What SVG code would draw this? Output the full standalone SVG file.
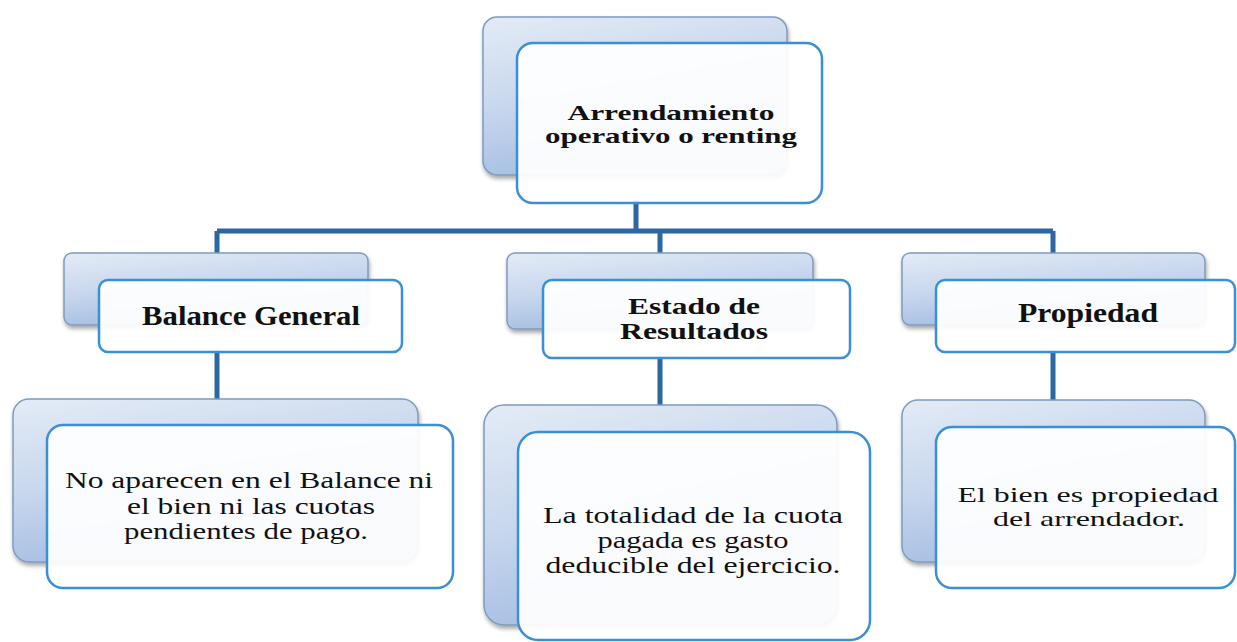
<svg xmlns="http://www.w3.org/2000/svg" width="1237" height="642" viewBox="0 0 1237 642" font-family="Liberation Serif, Times New Roman, serif">
<defs>
<linearGradient id="bg" x1="0" y1="0" x2="0.35" y2="1">
<stop offset="0" stop-color="#e3ebf6"/>
<stop offset="0.5" stop-color="#c9d8ee"/>
<stop offset="1" stop-color="#a4bde2"/>
</linearGradient>
<filter id="sh" x="-10%" y="-10%" width="120%" height="130%">
<feGaussianBlur in="SourceAlpha" stdDeviation="2"/>
<feOffset dx="1" dy="3"/>
<feComponentTransfer><feFuncA type="linear" slope="0.35"/></feComponentTransfer>
<feMerge><feMergeNode/><feMergeNode in="SourceGraphic"/></feMerge>
</filter>
</defs>
<style>
.back{fill:url(#bg);stroke:#7f9bbd;stroke-width:1.5;filter:url(#sh)}
.front{fill:#ffffff;fill-opacity:0.93;stroke:#3b8fd6;stroke-width:2.5}
.conn{stroke:#2a67a3;stroke-width:5;fill:none}
text{font-family:"Liberation Serif","Times New Roman",serif}
.t{fill:#111;text-anchor:middle}
.b{font-weight:bold;font-size:24px}
.r{font-size:24px}
.s{font-size:22px}
</style>
<rect width="1237" height="642" fill="#ffffff"/>
<g id="connectors">
<path class="conn" d="M636 200 V231 M217 231 H1053 M217 231 V256 M660 231 V256 M1053 231 V256"/>
<path class="conn" d="M217 350 V400 M660 356 V406 M1053 350 V401"/>
</g>
<g id="root">
<rect class="back" x="483" y="17" width="304" height="158" rx="14"/>
<rect class="front" x="517" y="43" width="305" height="160" rx="16"/>
<text class="t b s" x="671" y="120" textLength="207" lengthAdjust="spacingAndGlyphs">Arrendamiento</text>
<text class="t b s" x="671" y="143" textLength="252" lengthAdjust="spacingAndGlyphs">operativo o renting</text>
</g>
<g id="balance">
<rect class="back" x="64" y="253" width="304" height="72" rx="8"/>
<rect class="front" x="99" y="280" width="303" height="72" rx="9"/>
<text class="t b" x="251" y="325" style="font-size:27px" textLength="218" lengthAdjust="spacingAndGlyphs">Balance General</text>
</g>
<g id="estado">
<rect class="back" x="507" y="253" width="306" height="76" rx="8"/>
<rect class="front" x="543" y="280" width="307" height="78" rx="9"/>
<text class="t b" x="694" y="314" textLength="132" lengthAdjust="spacingAndGlyphs">Estado de</text>
<text class="t b" x="694" y="339" textLength="148" lengthAdjust="spacingAndGlyphs">Resultados</text>
</g>
<g id="propiedad">
<rect class="back" x="902" y="253" width="303" height="72" rx="8"/>
<rect class="front" x="936" y="280" width="299" height="72" rx="9"/>
<text class="t b" x="1088" y="322" style="font-size:27px" textLength="140" lengthAdjust="spacingAndGlyphs">Propiedad</text>
</g>
<g id="balance-desc">
<rect class="back" x="13" y="399" width="405" height="163" rx="16"/>
<rect class="front" x="47" y="425" width="406" height="163" rx="16"/>
<text class="t r" x="249" y="488" textLength="368" lengthAdjust="spacingAndGlyphs">No aparecen en el Balance ni</text>
<text class="t r" x="251" y="514" textLength="248" lengthAdjust="spacingAndGlyphs">el bien ni las cuotas</text>
<text class="t r" x="246" y="539" textLength="244" lengthAdjust="spacingAndGlyphs">pendientes de pago.</text>
</g>
<g id="estado-desc">
<rect class="back" x="484" y="405" width="353" height="220" rx="20"/>
<rect class="front" x="518" y="432" width="352" height="208" rx="20"/>
<text class="t r" x="693" y="523" textLength="300" lengthAdjust="spacingAndGlyphs">La totalidad de la cuota</text>
<text class="t r" x="693" y="548" textLength="191" lengthAdjust="spacingAndGlyphs">pagada es gasto</text>
<text class="t r" x="693" y="573" textLength="295" lengthAdjust="spacingAndGlyphs">deducible del ejercicio.</text>
</g>
<g id="propiedad-desc">
<rect class="back" x="902" y="400" width="303" height="162" rx="16"/>
<rect class="front" x="936" y="427" width="299" height="161" rx="16"/>
<text class="t r s" x="1088" y="502" textLength="261" lengthAdjust="spacingAndGlyphs">El bien es propiedad</text>
<text class="t r s" x="1089" y="526" textLength="192" lengthAdjust="spacingAndGlyphs">del arrendador.</text>
</g>
</svg>
